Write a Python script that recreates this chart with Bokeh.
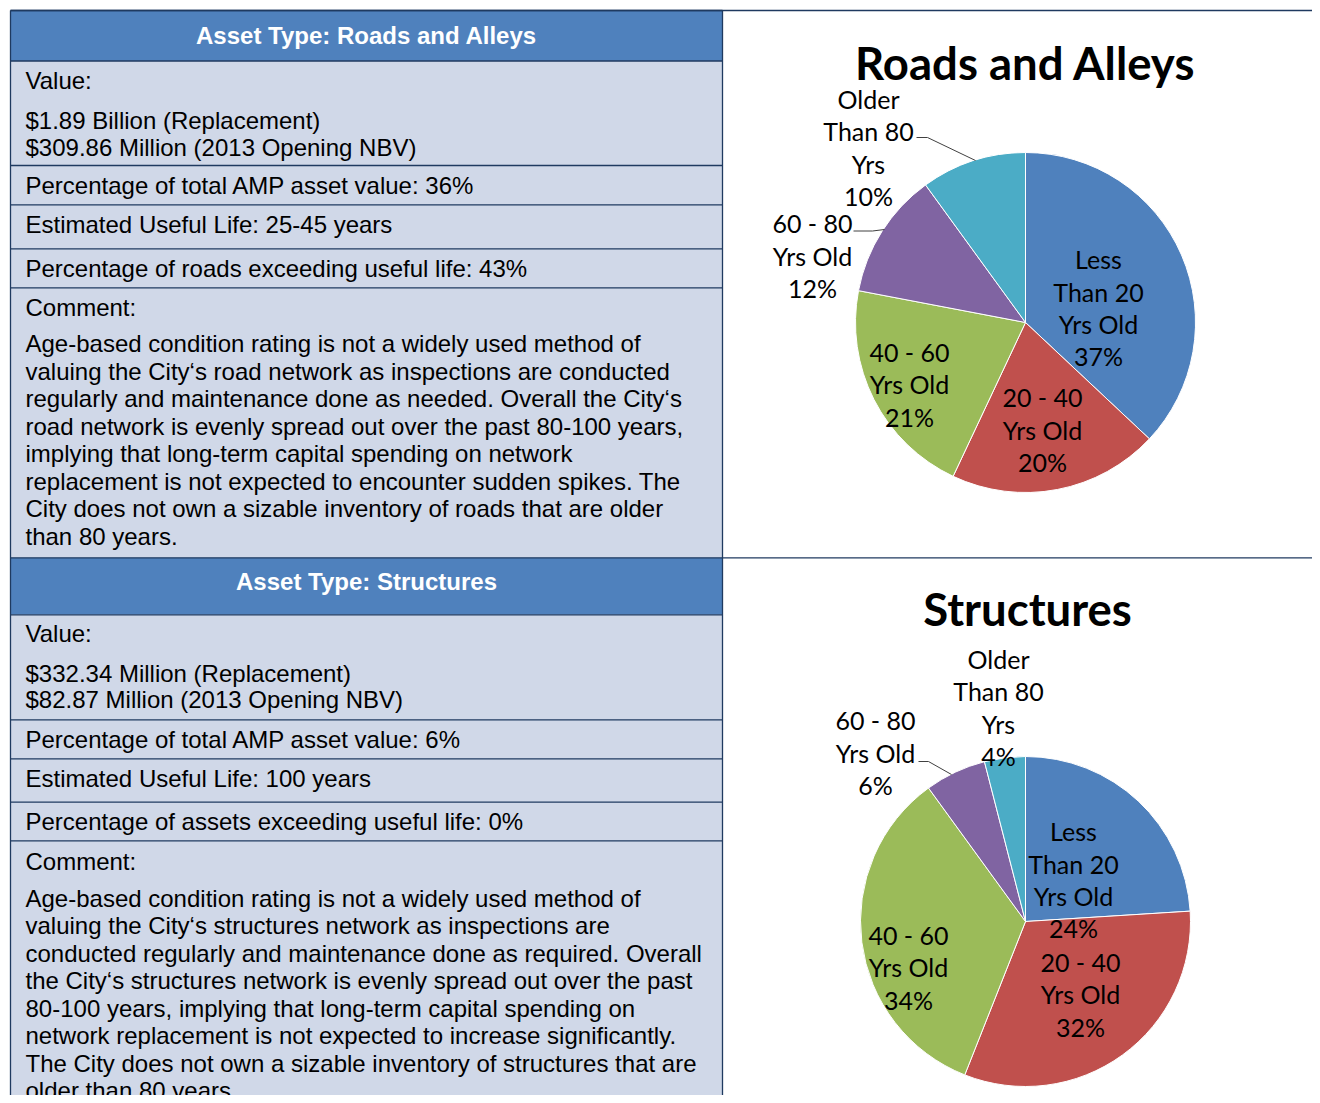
import math
from bokeh.plotting import figure
from bokeh.models import Range1d, ColumnDataSource
from bokeh.core.properties import value
from bokeh.embed import file_html
from bokeh.resources import INLINE

# ---------------- data ----------------
age_groups = ["Less Than 20 Yrs Old", "20 - 40 Yrs Old", "40 - 60 Yrs Old",
              "60 - 80 Yrs Old", "Older Than 80 Yrs"]
age_label_lines = [["Less", "Than 20", "Yrs Old"], ["20 - 40", "Yrs Old"],
                   ["40 - 60", "Yrs Old"], ["60 - 80", "Yrs Old"],
                   ["Older", "Than 80", "Yrs"]]
roads_share = [37, 20, 21, 12, 10]
structures_share = [24, 32, 34, 6, 4]
slice_colors = ["#4F81BD", "#C0504D", "#9BBB59", "#8064A2", "#4BACC6"]

roads_title = "Roads and Alleys"
structures_title = "Structures"

roads_header = "Asset Type: Roads and Alleys"
roads_value = ["$1.89 Billion (Replacement)", "$309.86 Million (2013 Opening NBV)"]
roads_amp = "Percentage of total AMP asset value: 36%"
roads_life = "Estimated Useful Life: 25-45 years"
roads_exceed = "Percentage of roads exceeding useful life: 43%"
roads_comment = [
    "Age-based condition rating is not a widely used method of",
    "valuing the City\u2018s road network as inspections are conducted",
    "regularly and maintenance done as needed. Overall the City\u2018s",
    "road network is evenly spread out over the past 80-100 years,",
    "implying that long-term capital spending on network",
    "replacement is not expected to encounter sudden spikes. The",
    "City does not own a sizable inventory of roads that are older",
    "than 80 years.",
]

structures_header = "Asset Type: Structures"
structures_value = ["$332.34 Million (Replacement)", "$82.87 Million (2013 Opening NBV)"]
structures_amp = "Percentage of total AMP asset value: 6%"
structures_life = "Estimated Useful Life: 100 years"
structures_exceed = "Percentage of assets exceeding useful life: 0%"
structures_comment = [
    "Age-based condition rating is not a widely used method of",
    "valuing the City\u2018s structures network as inspections are",
    "conducted regularly and maintenance done as required. Overall",
    "the City\u2018s structures network is evenly spread out over the past",
    "80-100 years, implying that long-term capital spending on",
    "network replacement is not expected to increase significantly.",
    "The City does not own a sizable inventory of structures that are",
    "older than 80 years.",
]

# ---------------- layout (screen pixel coordinates) ----------------
W, H = 1312, 1095
p = figure(width=W, height=H, x_range=Range1d(0, W), y_range=Range1d(-H, 0),
           output_backend="svg", toolbar_location=None, min_border=0,
           x_axis_location=None, y_axis_location=None)
p.grid.visible = False
p.outline_line_color = None
p.background_fill_color = "white"
p.border_fill_color = "white"

BORDER = "#1F3A60"
HEAD = "#4F81BD"
CELL = "#D0D8E8"
TFONT = value("Liberation Sans")
LX0, LX1, RX1 = 10, 722, 1330
BASE_SHIFT = 0.33  # baseline correction (em)


def Y(v):
    return -v


def TY(baseline, size):
    return -(baseline - BASE_SHIFT * size)


sections = [
    dict(rows=[10, 60.5, 165, 204.3, 248.3, 287.3, 557.3],
         header=roads_header, value=roads_value, amp=roads_amp, life=roads_life,
         exceed=roads_exceed, comment=roads_comment,
         base=dict(head=43.3, val=88.3, v1=127.7, v2=154.5, amp=192.7, life=231.7,
                   exc=276.0, com=315.0, c0=351.0)),
    dict(rows=[557.3, 614.3, 719.3, 758.3, 801.7, 840.3, 1110],
         header=structures_header, value=structures_value, amp=structures_amp,
         life=structures_life, exceed=structures_exceed, comment=structures_comment,
         base=dict(head=589.3, val=640.7, v1=680.7, v2=707.3, amp=746.7, life=785.7,
                   exc=829.3, com=869.3, c0=905.5)),
]
LINE_PITCH = 27.5
TS = 24

for s in sections:
    r = s["rows"]
    p.quad(left=LX0, right=LX1, top=Y(r[0]), bottom=Y(r[1]), fill_color=HEAD, line_color=None)
    p.quad(left=LX0, right=LX1, top=Y(r[1]), bottom=Y(r[-1]), fill_color=CELL, line_color=None)
    b = s["base"]
    p.text(x=[(LX0 + LX1) / 2], y=[TY(b["head"], TS)], text=[s["header"]], text_font=TFONT,
           text_font_size="%dpx" % TS, text_font_style="bold", text_color="white",
           text_align="center", text_baseline="alphabetic")
    xs, ys, ts = [], [], []
    for t, yy in [("Value:", b["val"]), (s["value"][0], b["v1"]), (s["value"][1], b["v2"]),
                  (s["amp"], b["amp"]), (s["life"], b["life"]), (s["exceed"], b["exc"]),
                  ("Comment:", b["com"])]:
        xs.append(25); ys.append(TY(yy, TS)); ts.append(t)
    for i, t in enumerate(s["comment"]):
        xs.append(25); ys.append(TY(b["c0"] + i * LINE_PITCH, TS)); ts.append(t)
    p.text(x=xs, y=ys, text=ts, text_font=TFONT, text_font_size="%dpx" % TS,
           text_color="black", text_align="left", text_baseline="alphabetic")

# grid lines of the table
hy = []
for s in sections:
    for rr in s["rows"][:-1]:
        hy.append(rr)
p.multi_line(xs=[[LX0, LX1] for _ in hy], ys=[[Y(v), Y(v)] for v in hy],
             line_color=BORDER, line_width=1.3)
p.multi_line(xs=[[LX0, RX1], [LX1, RX1]], ys=[[Y(10), Y(10)], [Y(557.3), Y(557.3)]],
             line_color=BORDER, line_width=1.3)
p.multi_line(xs=[[LX0, LX0], [LX1, LX1]], ys=[[Y(10), Y(1110)], [Y(10), Y(1110)]],
             line_color=BORDER, line_width=1.3)

# ---------------- pies ----------------
pies = [
    dict(share=roads_share, title=roads_title, cx=1025, cy=322, r=170,
         title_pos=(1025, 76.7),
         label_pos=[(1098, 267), (1042, 405), (909, 359.5), (812, 231), (868, 106.5)],
         leaders=[[(853, 230.5), (872, 230.5), (884, 229)],
                  [(916, 137), (927, 137), (975, 160)]]),
    dict(share=structures_share, title=structures_title, cx=1025, cy=921, r=165,
         title_pos=(1027, 622.7),
         label_pos=[(1073, 839), (1080, 969.5), (908, 942.5), (875, 728), (998, 666.5)],
         leaders=[[(918, 761), (928, 761), (951, 774)]]),
]
LABEL_PITCH = 32.4
LFONT = value("Lato")
TITLE_SIZE = 45.5
LABEL_SIZE = 25

for pie in pies:
    total = float(sum(pie["share"]))
    cum = 0.0
    starts, ends = [], []
    for v in pie["share"]:
        a0 = math.pi / 2 - 2 * math.pi * cum / total
        cum += v
        a1 = math.pi / 2 - 2 * math.pi * cum / total
        starts.append(a1); ends.append(a0)
    src = ColumnDataSource(dict(x=[pie["cx"]] * len(starts), y=[Y(pie["cy"])] * len(starts),
                                start=starts, end=ends, color=slice_colors, name=age_groups))
    p.wedge(x="x", y="y", radius=pie["r"], start_angle="start", end_angle="end",
            fill_color="color", line_color="white", line_width=1, source=src)
    p.text(x=[pie["title_pos"][0]], y=[TY(pie["title_pos"][1], TITLE_SIZE)], text=[pie["title"]],
           text_font=LFONT, text_font_size="%.1fpx" % TITLE_SIZE, text_font_style="bold",
           text_color="black", text_align="center", text_baseline="alphabetic")
    for lead in pie["leaders"]:
        p.line(x=[q[0] for q in lead], y=[Y(q[1]) for q in lead], line_color="#404040",
               line_width=1)
    xs, ys, ts = [], [], []
    for k, (lx, ly) in enumerate(pie["label_pos"]):
        lines = age_label_lines[k] + ["%d%%" % pie["share"][k]]
        for j, t in enumerate(lines):
            xs.append(lx); ys.append(TY(ly + j * LABEL_PITCH, LABEL_SIZE)); ts.append(t)
    p.text(x=xs, y=ys, text=ts, text_font=LFONT, text_font_size="%dpx" % LABEL_SIZE,
           text_color="black", text_align="center", text_baseline="alphabetic")

open("out.html", "w").write(file_html(p, INLINE))
